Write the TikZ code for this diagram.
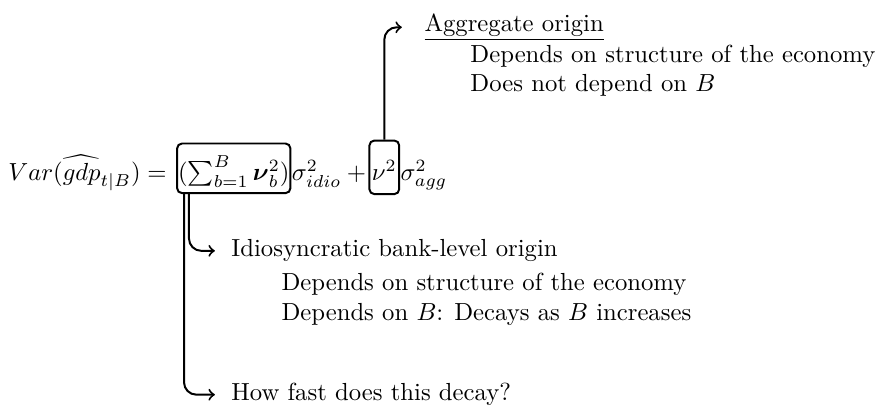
\documentclass[tikz,border=0pt]{standalone}
\usepackage{amsmath,amssymb}
\usetikzlibrary{positioning, calc}

\begin{document}
\begin{tikzpicture}[
    x=1pt, y=1pt,
    eqbox/.style={draw, thick, rounded corners=2pt, inner xsep=0.4pt, inner ysep=1pt, anchor=base west},
    eqpart/.style={inner sep=0pt, anchor=base west},
    lbl/.style={inner sep=0pt, anchor=base west},
    det/.style={inner sep=0pt, anchor=base west},
    arr/.style={->, thick, rounded corners=5pt},
]
    \useasboundingbox (0,0) rectangle (355.5,-166.8);

    % Equation
    \node[eqpart] (lhs) at (3.2,-72.9) {$Var(\widehat{gdp}_{t|B}) =$};
    \node[eqbox, text height=13.8pt, text depth=4.3pt] (sum) at ([xshift=3.6pt]lhs.base east) {$(\sum_{b=1}^B \boldsymbol{\nu}_b^2)$};
    \node[eqpart] (sidio) at (sum.base east) {$\sigma^2_{idio}\:+$};
    \node[eqbox, inner xsep=1pt, text height=15pt, text depth=4.7pt] (nu) at ([xshift=0.8pt]sidio.base east) {$\nu^2$};
    \node[eqpart] (sagg) at (nu.base east) {$\sigma^2_{agg}$};

    % Aggregate part (top)
    \node[lbl] (agg) at (171.7,-12.6) {\underline{Aggregate origin}};
    \node[det] (agg1) at (190.3,-25.1) {Depends on structure of the economy};
    \node[det] (agg2) at ([yshift=-12pt]agg1.base west) {Does not depend on $B$};

    % Idiosyncratic part (bottom)
    \node[lbl] (idio) at (93.5,-104) {Idiosyncratic bank-level origin};
    \node[det] (idio1) at (113.8,-117.8) {Depends on structure of the economy};
    \node[det] (idio2) at ([yshift=-12pt]idio1.base west) {Depends on $B$: Decays as $B$ increases};
    \node[lbl] (how) at (93.5,-162.3) {How fast does this decay?};

    \draw[arr] (nu.north) |- ([xshift=-9pt]agg.west);
    \draw[arr] ([xshift=5.2pt]sum.south west) |- ([xshift=-6.5pt]idio.west);
    \draw[arr] ([xshift=3.2pt]sum.south west) |- ([xshift=-6.5pt]how.west);
\end{tikzpicture}
\end{document}
